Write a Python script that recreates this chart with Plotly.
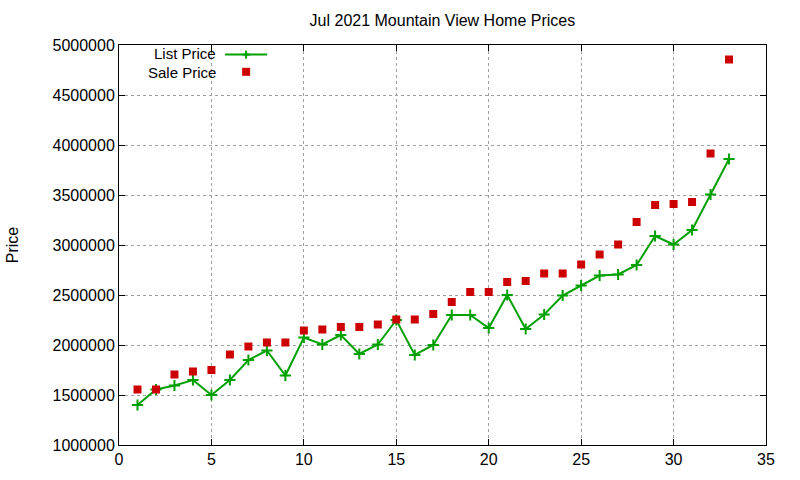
import plotly.graph_objects as go

# day-of-month index for each sale
sale_index = list(range(1, 34))

list_price = [1400000, 1555000, 1595000, 1650000, 1500000, 1650000, 1850000, 1945000, 1695000,
              2075000, 2005000, 2100000, 1910000, 2005000, 2250000, 1900000, 2000000, 2300000,
              2300000, 2170000, 2500000, 2160000, 2305000, 2495000, 2595000, 2695000, 2705000,
              2800000, 3090000, 3005000, 3150000, 3505000, 3860000]

sale_price = [1555000, 1555000, 1705000, 1735000, 1750000, 1905000, 1985000, 2025000, 2025000,
              2145000, 2155000, 2180000, 2180000, 2205000, 2255000, 2255000, 2310000, 2430000,
              2530000, 2530000, 2630000, 2640000, 2715000, 2715000, 2805000, 2905000, 3005000,
              3230000, 3400000, 3410000, 3430000, 3915000, 4855000]

x_ticks = [0, 5, 10, 15, 20, 25, 30, 35]
y_ticks = [1000000, 1500000, 2000000, 2500000, 3000000, 3500000, 4000000, 4500000, 5000000]

green = '#00a000'
red = '#cc0000'
font = 'Liberation Sans, Arial, sans-serif'

fig = go.Figure()
fig.add_trace(go.Scatter(x=sale_index, y=list_price, mode='lines+markers', name='List Price',
                         line=dict(color=green, width=2),
                         marker=dict(symbol='cross-thin', size=8, line=dict(color=green, width=2))))
fig.add_trace(go.Scatter(x=sale_index, y=sale_price, mode='markers', name='Sale Price',
                         marker=dict(symbol='square', size=8, color=red)))

axis_style = dict(showline=True, linecolor='black', linewidth=1, mirror='allticks',
                  ticks='inside', ticklen=6, tickcolor='black',
                  showgrid=True, gridcolor='#a0a0a0', griddash='dot', gridwidth=1,
                  zeroline=False, tickfont=dict(family=font, size=16, color='black'))

fig.update_xaxes(range=[0, 35], tickvals=x_ticks, **axis_style)
fig.update_yaxes(range=[1000000, 5000000], tickvals=y_ticks, tickformat='d', **axis_style)

fig.add_annotation(text='Price', xref='paper', yref='paper', x=-0.165, y=0.5,
                   textangle=-90, xanchor='center', yanchor='middle', showarrow=False,
                   font=dict(family=font, size=16, color='black'))

# gnuplot style key: text on the left, sample on the right
fig.add_annotation(text='List Price', xref='paper', yref='paper', x=0.151, y=0.978,
                   xanchor='right', yanchor='middle', showarrow=False, borderpad=0,
                   font=dict(family=font, size=15, color='black'))
fig.add_annotation(text='Sale Price', xref='paper', yref='paper', x=0.151, y=0.930,
                   xanchor='right', yanchor='middle', showarrow=False, borderpad=0,
                   font=dict(family=font, size=15, color='black'))
fig.add_shape(type='line', xref='paper', yref='paper', x0=0.164, x1=0.229, y0=0.976, y1=0.976,
              line=dict(color=green, width=2))
fig.add_shape(type='line', xref='paper', yref='paper', x0=0.1903, x1=0.2027, y0=0.976, y1=0.976,
              line=dict(color=green, width=2))
fig.add_shape(type='line', xref='paper', yref='paper', x0=0.1965, x1=0.1965, y0=0.966, y1=0.986,
              line=dict(color=green, width=2))
fig.add_shape(type='rect', xref='paper', yref='paper', x0=0.1903, x1=0.2027, y0=0.923, y1=0.943,
              line=dict(width=0), fillcolor=red)

fig.update_layout(
    width=800, height=480,
    margin=dict(l=119, r=34, t=45, b=32),
    title=dict(text='Jul 2021 Mountain View Home Prices', x=0.553, xanchor='center',
               y=0.958, yanchor='middle',
               font=dict(family=font, size=16, color='black')),
    showlegend=False,
    plot_bgcolor='white', paper_bgcolor='white',
)

# drop the page's default body margin so the figure sits at the window corner
fig.write_html('out.html', config={'displayModeBar': False},
               post_script="document.body.style.margin='0';")
